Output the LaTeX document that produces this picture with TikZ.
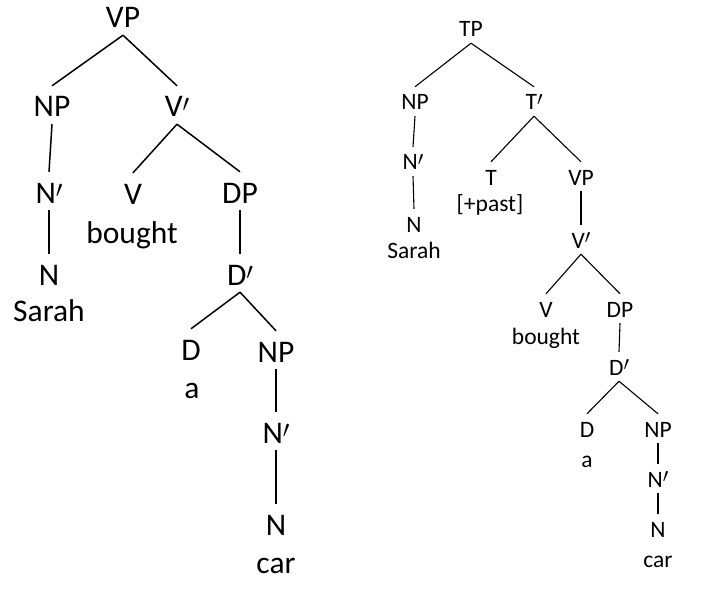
\documentclass[tikz,border=0pt]{standalone}
\usepackage{fontspec}
\setmainfont{Carlito}
\newcommand{\pr}{\raisebox{0.19em}{\scalebox{1.15}{$\scriptstyle\prime$}}}
\begin{document}
\begin{tikzpicture}[x=1pt,y=-1pt,
  bigcat/.style={font=\fontsize{31.5}{36}\selectfont, anchor=base, text height=24pt, text depth=0pt, inner xsep=1pt, inner ysep=7pt},
  bigword/.style={font=\fontsize{31.5}{36}\selectfont, anchor=base, inner sep=0pt},
  smallcat/.style={font=\fontsize{23.5}{28}\selectfont, anchor=base, text height=17pt, text depth=0pt, inner xsep=1pt, inner ysep=6pt},
  smallword/.style={font=\fontsize{23.5}{28}\selectfont, anchor=base, inner sep=0pt},
  bigedge/.style={line width=1.5pt},
  smalledge/.style={line width=1.1pt}]
\useasboundingbox (0,0) rectangle (703,604);
% ---------------- left tree ----------------
\node[bigcat] (lVP)  at (123,28)  {VP};
\node[bigcat] (lNP)  at (52,117)  {NP};
\node[bigcat] (lVb)  at (177,117) {V\pr};
\node[bigcat] (lNb)  at (49,203)  {N\pr};
\node[bigcat] (lN)   at (49,285)  {N};
\node[bigword] (lSarah) at (49,321) {Sarah};
\node[bigcat] (lV)   at (133,204) {V};
\node[bigword] (lbought) at (132,243) {bought};
\node[bigcat] (lDP)  at (240,203) {DP};
\node[bigcat] (lDb)  at (240,285) {D\pr};
\node[bigcat] (lD)   at (191,360) {D};
\node[bigword] (la)  at (192,398) {a};
\node[bigcat] (lNP2) at (276,362) {NP};
\node[bigcat] (lNb2) at (276,443) {N\pr};
\node[bigcat] (lN2)  at (276,535) {N};
\node[bigword] (lcar) at (276,573) {car};
\begin{scope}[bigedge]
\draw (lVP.south) -- (lNP.north);
\draw (lVP.south) -- (lVb.north);
\draw (lNP.south) -- (lNb.north);
\draw (lNb.south) -- (lN.north);
\draw (lVb.south) -- (lV.north);
\draw (lVb.south) -- (lDP.north);
\draw (lDP.south) -- (lDb.north);
\draw (lDb.south) -- (lD.north);
\draw (lDb.south) -- (lNP2.north);
\draw (lNP2.south) -- (lNb2.north);
\draw (lNb2.south) -- (lN2.north);
\end{scope}
% ---------------- right tree ----------------
\node[smallcat] (rTP)  at (471,37)  {TP};
\node[smallcat] (rNP)  at (415,110) {NP};
\node[smallcat] (rNb)  at (413,170) {N\pr};
\node[smallcat] (rN)   at (414,232) {N};
\node[smallword] (rSarah) at (414,258) {Sarah};
\node[smallcat] (rTb)  at (534,110) {T\pr};
\node[smallcat] (rT)   at (491,185) {T};
\node[smallword] (rpast) at (490,211) {[+past]};
\node[smallcat] (rVP)  at (581,185) {VP};
\node[smallcat] (rVb)  at (581,248) {V\pr};
\node[smallcat] (rV)   at (546,317) {V};
\node[smallword] (rbought) at (546,344) {bought};
\node[smallcat] (rDP)  at (620,317) {DP};
\node[smallcat] (rDb)  at (619,375) {D\pr};
\node[smallcat] (rD)   at (587,437) {D};
\node[smallword] (ra)  at (587,467) {a};
\node[smallcat] (rNP2) at (658,437) {NP};
\node[smallcat] (rNb2) at (658,487) {N\pr};
\node[smallcat] (rN2)  at (658,537) {N};
\node[smallword] (rcar) at (658,567) {car};
\begin{scope}[smalledge]
\draw (rTP.south) -- (rNP.north);
\draw (rTP.south) -- (rTb.north);
\draw (rNP.south) -- (rNb.north);
\draw (rNb.south) -- (rN.north);
\draw (rTb.south) -- (rT.north);
\draw (rTb.south) -- (rVP.north);
\draw (rVP.south) -- (rVb.north);
\draw (rVb.south) -- (rV.north);
\draw (rVb.south) -- (rDP.north);
\draw (rDP.south) -- (rDb.north);
\draw (rDb.south) -- (rD.north);
\draw (rDb.south) -- (rNP2.north);
\draw (rNP2.south) -- (rNb2.north);
\draw (rNb2.south) -- (rN2.north);
\end{scope}
\end{tikzpicture}
\end{document}
